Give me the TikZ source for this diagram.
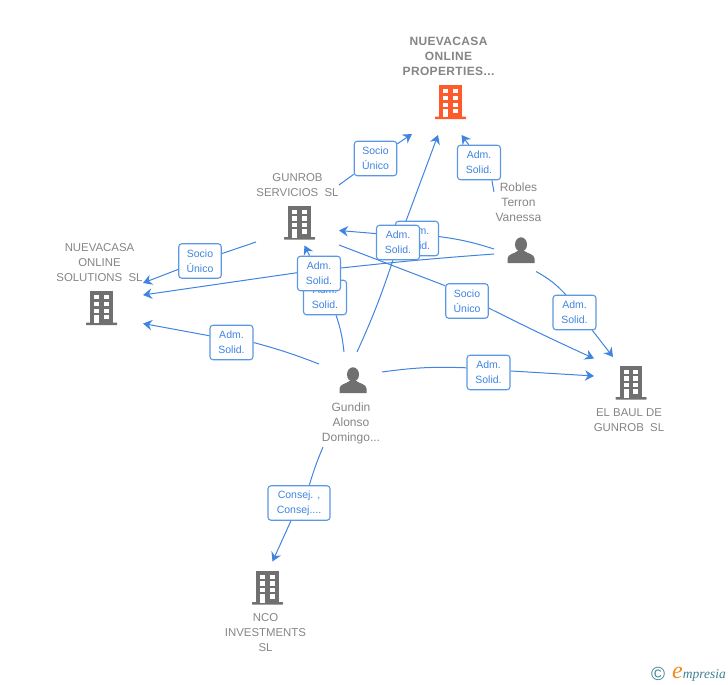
\documentclass[tikz,border=0pt]{standalone}
\usepackage{fontspec}
\setmainfont{Liberation Sans}
\newfontfamily\logofont{Liberation Serif}
\newfontfamily\spacedfont[LetterSpace=3]{Liberation Sans}
\usetikzlibrary{arrows.meta}
\pgfdeclarelayer{lines}
\pgfsetlayers{lines,main}
\definecolor{linkblue}{HTML}{3F84E0}
\definecolor{boxblue}{HTML}{5B98E4}
\definecolor{icongray}{HTML}{707070}
\definecolor{labelgray}{HTML}{858585}
\definecolor{hotorange}{HTML}{FF5A2B}
\definecolor{logoblue}{HTML}{3F7F96}
\definecolor{logoorange}{HTML}{F08A1E}
\tikzset{
  x=1pt,y=-1pt,
  badge/.style={draw=boxblue,line width=1.1pt,rounded corners=3pt,fill=white,text=linkblue,
    inner sep=0pt,minimum width=43pt,minimum height=34.5pt,align=center,
    font=\fontsize{10.5}{15}\selectfont,execute at begin node={\rule{0pt}{10.7pt}}},
  wide badge/.style={badge,minimum width=62pt},
  link/.style={draw=linkblue,line width=1pt},
  arrowlink/.style={link,-{Stealth[length=9pt,width=10.5pt,inset=3pt]}},
  name label/.style={text=labelgray,align=center,inner sep=0pt,font=\fontsize{11.4}{15}\selectfont},
  person label/.style={name label,font=\fontsize{12}{15}\selectfont},
  bold label/.style={name label,font=\spacedfont\fontsize{12}{15}\selectfont\bfseries},
  icon/.style={inner sep=0pt,minimum width=32pt,minimum height=34pt},
}
\newcommand{\bldg}[2]{%
  \begin{scope}[shift={(#1)}]
    \fill[#2] (-11.2,-17) rectangle (11.2,15);
    \fill[#2,rounded corners=0.6pt] (-15.5,14.5) rectangle (15.5,17.2);
    \foreach \wx in {-7.2,2.4} {
      \foreach \wy in {-12.8,-6.1,0.6} {
        \fill[white] (\wx,\wy) rectangle +(5,4.2);
      }
    }
    \fill[white] (-7.2,6.9) rectangle (-2.2,15);
    \fill[white] (2.4,6.9) rectangle (7.4,11.1);
  \end{scope}}
\newcommand{\persona}[2]{%
  \begin{scope}[shift={(#1)}]
    \fill[#2] (0,-5.5) ellipse (6pt and 7.2pt);
    \fill[#2] (-13.5,13) -- (-13.5,8.5) .. controls (-13.5,4) and (-6,3.5) .. (-3.5,1) -- (3.5,1)
      .. controls (6,3.5) and (13.5,4) .. (13.5,8.5) -- (13.5,13) -- cycle;
  \end{scope}}
\begin{document}
\begin{tikzpicture}
\useasboundingbox (0,0) rectangle (728,685);

% icons
\node[icon] (top) at (450.5,102) {};
\node[icon] (gunrob) at (299.5,222.5) {};
\node[icon] (solutions) at (101.5,308) {};
\node[icon] (baul) at (631,382.5) {};
\node[icon] (nco) at (267.5,587.5) {};
\node[icon] (gundin) at (353,380) {};
\node[icon] (robles) at (521,250) {};
\bldg{top}{hotorange}
\bldg{gunrob}{icongray}
\bldg{solutions}{icongray}
\bldg{baul}{icongray}
\bldg{nco}{icongray}
\persona{gundin}{icongray}
\persona{robles}{icongray}

% names
\node[bold label] (ltop) at (448.5,56.5) {NUEVACASA\\ONLINE\\PROPERTIES...};
\node[name label] (lgunrob) at (297.5,185) {GUNROB\\SERVICIOS\ \ SL};
\node[name label] (lsol) at (99.5,262.5) {NUEVACASA\\ONLINE\\SOLUTIONS\ \ SL};
\node[name label] (lbaul) at (629,420) {EL BAUL DE\\GUNROB\ \ SL};
\node[name label] (lnco) at (265.5,632.5) {NCO\\INVESTMENTS\\SL};
\node[person label] (lgundin) at (351,423.5) {Gundin\\Alonso\\Domingo...};
\node[person label] (lrobles) at (518.5,202) {Robles\\Terron\\Vanessa};

% badges
\node[badge,minimum width=42.5pt] (b1) at (375.5,158.5) {Socio\\Único};
\node[badge] (b2) at (479,162.5) {Adm.\\Solid.};
\node[badge] (b4) at (417,238.5) {Adm.\\Solid.};
\node[badge] (b3) at (398,242.5) {Adm.\\Solid.};
\node[badge] (b6) at (325,297.5) {Adm.\\Solid.};
\node[badge] (b5) at (319,273.5) {Adm.\\Solid.};
\node[badge,minimum width=42.5pt] (b7) at (467,301) {Socio\\Único};
\node[badge] (b8) at (231.5,342.5) {Adm.\\Solid.};
\node[badge,minimum width=42.5pt] (b9) at (200,261) {Socio\\Único};
\node[badge] (b10) at (488.5,372.5) {Adm.\\Solid.};
\node[badge] (b11) at (574.5,312.5) {Adm.\\Solid.};
\node[wide badge] (b12) at (299,503) {Consej. ,\\Consej....};

% free ends of the connectors
\coordinate (s1) at (339,185);   \coordinate (e1) at (412,134);
\coordinate (s2) at (494,192);   \coordinate (e2) at (461.5,135);
\coordinate (s3) at (357,352);   \coordinate (e3) at (438,135);
\coordinate (s4) at (494,249);   \coordinate (e4) at (339,230.5);
\coordinate (s5) at (494,254);   \coordinate (e5) at (143,295);
\coordinate (s6) at (344,352);   \coordinate (e6) at (304.5,245.5);
\coordinate (s7) at (339,245);   \coordinate (e7) at (594,358.5);
\coordinate (s8) at (319,364);   \coordinate (e8) at (143,323.5);
\coordinate (s9) at (256,242);   \coordinate (e9) at (143,283);
\coordinate (s10) at (382,372);  \coordinate (e10) at (594,376);
\coordinate (s11) at (536,271.5);  \coordinate (e11) at (613,357);
\coordinate (s12) at (323,447);  \coordinate (e12) at (272.5,561.5);

\begin{pgfonlayer}{lines}
\draw[link] (s1) -- (b1);
\draw[arrowlink] (b1) -- (e1);
\draw[link] (s2) -- (b2.-54);
\draw[arrowlink] (b2.120) -- (e2);
\draw[link] (s3) to[bend left=-3] (b3.-106);
\draw[arrowlink] (b3) -- (e3);
\draw[link] (s4) to[bend left=-5] (b4.5);
\draw[arrowlink] (b3.158) -- (e4);
\draw[link] (s5) to[bend left=-1] (b5.14);
\draw[arrowlink] (b5.178) -- (e5);
\draw[link] (s6) to[bend left=-6] (b6.-58);
\draw[arrowlink] (b5.118) -- (e6);
\draw[link] (s7) -- (b7.145);
\draw[arrowlink] (b7.-18) to[bend left=-1] (e7);
\draw[link] (s8) to[bend left=-3] (b8.0);
\draw[arrowlink] (b8.163) -- (e8);
\draw[link] (s9) -- (b9);
\draw[arrowlink] (b9) -- (e9);
\draw[link] (s10) to[bend left=5] (b10.168);
\draw[arrowlink] (b10.4) -- (e10);
\draw[link] (s11) to[bend left=9] (b11.116);
\draw[arrowlink] (b11.-45) -- (e11);
\draw[link] (s12) to[bend left=-3] (b12.60);
\draw[arrowlink] (b12) -- (e12);
\end{pgfonlayer}

% logo
\node[text=logoblue,inner sep=0pt,font=\fontsize{19}{19}\selectfont] (logoc) at (658,673.5) {©};
\node[inner sep=0pt,anchor=west,text=logoblue,font=\logofont\itshape\fontsize{13.5}{13.5}\selectfont] (logot) at (672,674)
  {{\color{logoorange}\fontsize{24}{24}\selectfont e}mpresia};
\end{tikzpicture}
\end{document}
